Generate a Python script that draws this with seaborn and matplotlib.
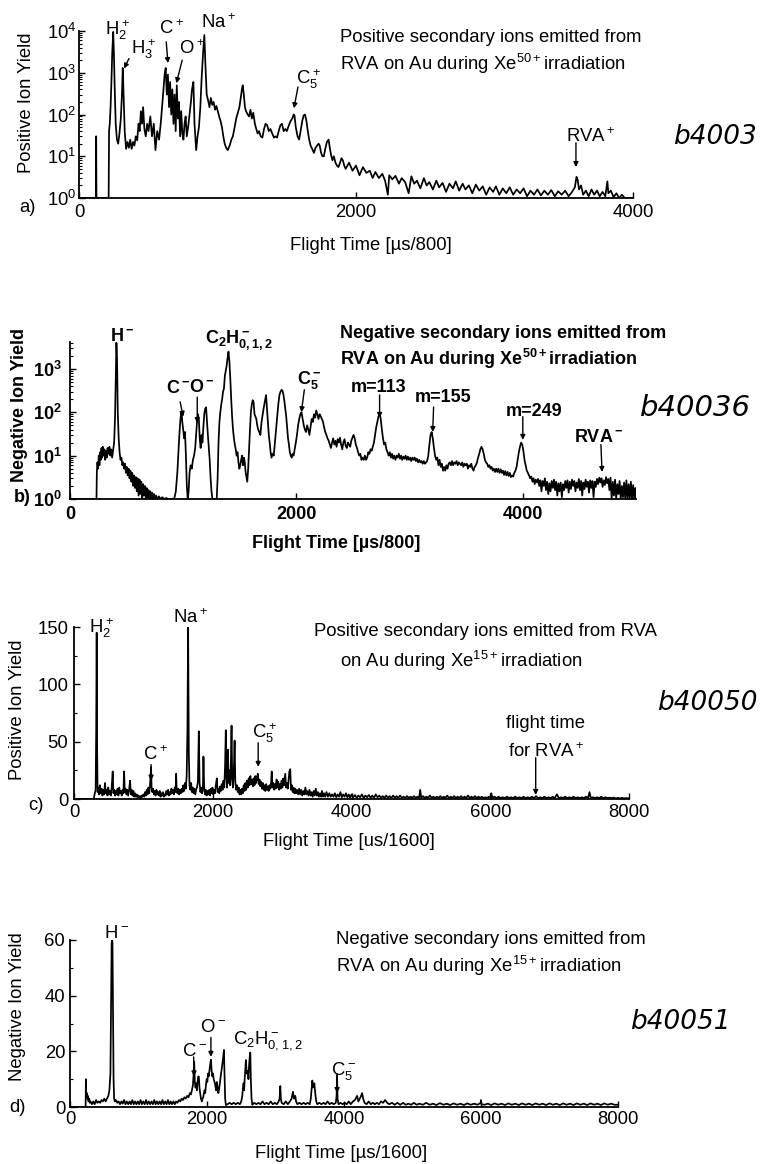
import pandas as pd
import matplotlib
matplotlib.use("Agg")
import matplotlib.pyplot as plt
import seaborn as sns
from matplotlib import font_manager
from matplotlib.font_manager import FontProperties
from matplotlib.ticker import MultipleLocator, NullFormatter

# ---- spectra: (flight time, ion yield) ----
a_spectrum = [
    (0, 1), (122, 1), (124, 30), (126, 1), (214, 1), (217, 40), (222, 60), (228, 150), (234, 600),
    (240, 3000), (247, 9500), (252, 3000), (258, 400), (265, 60), (274, 25), (283, 20), (292, 35),
    (302, 80), (310, 300), (316, 1300), (322, 300), (330, 40), (340, 15), (350, 22), (360, 16),
    (370, 25), (380, 15), (390, 22), (400, 18), (410, 30), (420, 24), (430, 60), (438, 40),
    (447, 120), (455, 60), (463, 150), (472, 45), (482, 30), (492, 60), (502, 40), (515, 90),
    (527, 30), (540, 60), (552, 14), (565, 40), (578, 25), (590, 60), (600, 150), (610, 400),
    (618, 900), (626, 1300), (634, 300), (642, 900), (650, 150), (658, 600), (666, 100), (674, 400),
    (682, 60), (690, 300), (698, 40), (706, 500), (714, 80), (722, 200), (730, 30), (738, 120),
    (746, 35), (754, 25), (762, 60), (770, 90), (778, 30), (788, 50), (798, 100), (808, 200),
    (816, 400), (826, 600), (834, 60), (846, 14), (856, 30), (866, 50), (876, 150), (886, 800),
    (896, 3000), (905, 8000), (913, 1500), (922, 300), (932, 220), (942, 150), (952, 250),
    (962, 170), (972, 200), (982, 130), (992, 160), (1002, 120), (1012, 90), (1022, 70), (1032, 50),
    (1042, 30), (1052, 20), (1062, 16), (1074, 14), (1088, 18), (1100, 25), (1111, 30), (1124, 50),
    (1135, 80), (1147, 110), (1158, 150), (1168, 250), (1176, 400), (1182, 500), (1190, 300),
    (1198, 150), (1206, 120), (1218, 100), (1228, 90), (1238, 130), (1248, 80), (1258, 110),
    (1270, 60), (1280, 45), (1290, 35), (1300, 40), (1312, 30), (1324, 28), (1336, 45), (1347, 60),
    (1359, 55), (1370, 40), (1382, 45), (1395, 35), (1408, 28), (1420, 30), (1430, 28), (1442, 40),
    (1454, 55), (1465, 60), (1478, 40), (1490, 45), (1501, 40), (1515, 55), (1528, 70), (1540, 80),
    (1550, 100), (1556, 95), (1565, 50), (1578, 30), (1589, 25), (1600, 40), (1612, 70), (1622, 95),
    (1632, 100), (1642, 70), (1652, 40), (1662, 25), (1672, 18), (1684, 15), (1696, 12), (1708, 16),
    (1720, 18), (1730, 20), (1738, 18), (1748, 12), (1758, 10), (1768, 10), (1778, 15), (1790, 22),
    (1802, 25), (1812, 15), (1822, 10), (1830, 8), (1840, 10), (1852, 7), (1862, 6), (1873, 5.5),
    (1885, 7), (1895, 9), (1905, 8), (1915, 6), (1925, 5), (1950, 7), (1975, 4.5), (2000, 6),
    (2025, 3.5), (2050, 5.5), (2075, 4), (2100, 4.5), (2120, 3), (2140, 4.2), (2165, 3), (2190, 3.8),
    (2210, 2.6), (2230, 1.2), (2240, 3.5), (2262, 2.8), (2285, 3.4), (2310, 2.2), (2330, 3.0),
    (2355, 2.4), (2380, 1.3), (2400, 3.3), (2420, 2.2), (2440, 2.6), (2465, 1.7), (2490, 3.0),
    (2510, 2.0), (2530, 2.4), (2555, 1.6), (2580, 2.6), (2600, 1.8), (2625, 2.3), (2650, 1.4),
    (2675, 2.2), (2700, 1.7), (2720, 2.5), (2745, 1.5), (2770, 2.2), (2790, 1.6), (2815, 2.0),
    (2840, 1.3), (2865, 2.1), (2890, 1.5), (2915, 1.9), (2940, 1.2), (2965, 1.8), (2990, 1.4),
    (3010, 1.9), (3035, 1.2), (3060, 1.7), (3085, 1.3), (3110, 1.8), (3135, 1.2), (3160, 1.6),
    (3185, 1.3), (3210, 1.7), (3235, 1.1), (3260, 1.5), (3285, 1.2), (3310, 1.6), (3335, 1.15),
    (3360, 1.5), (3385, 1.2), (3410, 1.55), (3435, 1.1), (3460, 1.45), (3485, 1.2), (3510, 1.5),
    (3535, 1.1), (3560, 1.4), (3580, 1.8), (3592, 3.2), (3600, 2.8), (3610, 1.6), (3625, 2.0),
    (3640, 1.2), (3660, 1.5), (3680, 1.1), (3700, 1.6), (3720, 1.2), (3740, 1.5), (3760, 1.1),
    (3780, 1.4), (3800, 1.1), (3815, 2.5), (3822, 1.3), (3840, 1.5), (3860, 1.05), (3880, 1.3),
    (3900, 1.0), (3920, 1.2), (3940, 1.0), (4000, 1.0),
]

b_spectrum = [
    (0, 1), (234, 1), (237, 4), (242, 7), (248, 5), (254, 10), (260, 6), (266, 12), (272, 8),
    (278, 15), (284, 9), (290, 16), (297, 10), (304, 14), (311, 8), (318, 13), (325, 9), (332, 15),
    (340, 11), (348, 16), (356, 10), (364, 14), (372, 9), (380, 13), (390, 20), (398, 80),
    (405, 800), (410, 4000), (416, 1500), (422, 100), (430, 25), (438, 12), (446, 8), (454, 9),
    (462, 6), (470, 7), (478, 5), (486, 6.5), (494, 4), (502, 5.5), (510, 3.5), (518, 5), (526, 3),
    (534, 4.5), (542, 2.5), (550, 4), (558, 2), (566, 3.5), (574, 1.8), (582, 3.2), (590, 1.5),
    (598, 3), (606, 1.2), (614, 2.8), (622, 1.3), (630, 2.5), (638, 1), (646, 2.2), (654, 1.2),
    (662, 2), (670, 1), (678, 1.8), (686, 1.1), (694, 1.6), (702, 1), (710, 1.5), (718, 1),
    (726, 1.4), (734, 1), (742, 1.3), (750, 1), (760, 1.2), (772, 1), (785, 1.15), (800, 1),
    (815, 1.1), (830, 1), (850, 1.05), (870, 1), (920, 1), (935, 1.5), (948, 4), (958, 12),
    (966, 30), (974, 60), (980, 90), (986, 100), (992, 60), (1000, 40), (1008, 25), (1016, 35),
    (1024, 10), (1032, 2), (1040, 1), (1048, 1.5), (1056, 4), (1066, 6), (1076, 5), (1086, 8),
    (1096, 10), (1106, 15), (1114, 30), (1122, 60), (1130, 90), (1138, 70), (1146, 25), (1154, 15),
    (1162, 30), (1170, 20), (1178, 45), (1186, 90), (1194, 120), (1202, 130), (1210, 60),
    (1218, 30), (1226, 15), (1234, 8), (1242, 3), (1250, 1.5), (1258, 1), (1296, 1), (1304, 3),
    (1312, 20), (1320, 60), (1328, 100), (1336, 150), (1344, 200), (1352, 300), (1360, 350),
    (1368, 700), (1376, 900), (1384, 1200), (1392, 1800), (1400, 2500), (1408, 1500), (1416, 600),
    (1424, 200), (1432, 80), (1440, 40), (1448, 25), (1456, 18), (1464, 14), (1472, 10),
    (1480, 12), (1488, 7), (1496, 5), (1504, 6), (1512, 8), (1520, 10), (1528, 6), (1536, 9),
    (1544, 7), (1552, 4), (1560, 3), (1566, 2.5), (1574, 5), (1582, 15), (1590, 40), (1598, 100),
    (1606, 150), (1614, 190), (1622, 170), (1630, 90), (1638, 80), (1646, 70), (1654, 50),
    (1662, 40), (1672, 35), (1682, 30), (1692, 60), (1702, 90), (1712, 130), (1722, 180),
    (1732, 250), (1740, 120), (1748, 60), (1756, 30), (1764, 20), (1772, 12), (1780, 9),
    (1790, 11), (1800, 10), (1810, 20), (1820, 40), (1830, 80), (1840, 150), (1850, 250),
    (1860, 300), (1870, 330), (1878, 310), (1886, 250), (1894, 180), (1902, 120), (1910, 80),
    (1918, 45), (1926, 25), (1934, 18), (1942, 12), (1950, 10), (1958, 9), (1966, 11), (1975, 10),
    (1985, 14), (1995, 20), (2005, 30), (2015, 50), (2025, 70), (2035, 90), (2045, 100),
    (2055, 70), (2065, 50), (2075, 40), (2085, 35), (2095, 50), (2105, 40), (2115, 30), (2125, 45),
    (2135, 70), (2145, 60), (2155, 90), (2165, 75), (2175, 110), (2185, 90), (2195, 70),
    (2205, 90), (2215, 80), (2225, 70), (2235, 60), (2245, 45), (2255, 35), (2265, 30), (2275, 25),
    (2285, 22), (2295, 18), (2305, 15), (2315, 20), (2325, 25), (2335, 18), (2345, 22), (2355, 16),
    (2365, 24), (2375, 20), (2385, 26), (2395, 18), (2405, 14), (2415, 20), (2425, 24), (2435, 17),
    (2445, 15), (2455, 20), (2465, 18), (2475, 16), (2485, 22), (2495, 26), (2505, 30), (2515, 25),
    (2525, 18), (2535, 15), (2545, 12), (2555, 10), (2565, 11), (2575, 8), (2585, 9), (2595, 8),
    (2605, 10), (2615, 8), (2625, 9), (2635, 12), (2645, 11), (2655, 14), (2665, 13), (2675, 16),
    (2685, 20), (2695, 30), (2705, 45), (2715, 60), (2725, 80), (2735, 95), (2745, 70), (2755, 40),
    (2765, 25), (2775, 18), (2785, 20), (2795, 14), (2805, 12), (2815, 10), (2825, 12), (2835, 9),
    (2845, 11), (2855, 8.5), (2865, 10), (2875, 8), (2885, 10), (2895, 9), (2905, 11), (2915, 8.5),
    (2925, 10), (2935, 8), (2945, 9.5), (2955, 8.5), (2965, 10), (2975, 8), (2985, 9.5), (2995, 8),
    (3005, 9), (3015, 7.5), (3025, 9), (3035, 8), (3045, 9), (3055, 7.5), (3065, 8.5), (3075, 7),
    (3085, 8), (3095, 7), (3105, 7.5), (3115, 6.5), (3125, 7.5), (3135, 6.5), (3145, 7),
    (3155, 7.5), (3165, 10), (3175, 18), (3185, 30), (3195, 35), (3205, 25), (3215, 15),
    (3225, 10), (3235, 8), (3245, 9), (3255, 6), (3265, 8), (3275, 5.5), (3285, 6.5), (3295, 4.5),
    (3305, 5.5), (3315, 4.5), (3325, 6), (3335, 5), (3345, 6.5), (3355, 7), (3365, 6), (3375, 7.5),
    (3385, 6), (3395, 7), (3405, 6.5), (3415, 7.5), (3425, 6), (3435, 7), (3445, 6.5), (3455, 6),
    (3465, 7), (3475, 5.5), (3485, 6.5), (3495, 6), (3505, 6.5), (3515, 5), (3525, 6), (3535, 5.5),
    (3545, 6.5), (3555, 5), (3565, 4.5), (3575, 5.5), (3585, 6), (3595, 7), (3605, 9), (3615, 11),
    (3625, 14), (3635, 16), (3645, 14), (3655, 11), (3665, 8), (3675, 7), (3685, 6.5), (3695, 5.5),
    (3705, 6), (3715, 5), (3725, 5.5), (3735, 4.5), (3745, 5), (3755, 4.2), (3765, 5), (3775, 4.2),
    (3785, 5), (3795, 4), (3805, 4.8), (3815, 4), (3825, 4.5), (3835, 3.6), (3845, 4.4),
    (3855, 3.5), (3865, 4.2), (3875, 3.4), (3885, 4), (3895, 3.2), (3905, 3.5), (3915, 3.3),
    (3925, 4), (3935, 4.5), (3945, 5.5), (3955, 8), (3965, 12), (3975, 16), (3985, 20), (3995, 18),
    (4005, 13), (4015, 8), (4025, 6), (4035, 4.5), (4045, 4), (4055, 3.5), (4065, 3), (4075, 3.3),
    (4085, 2.5), (4095, 3), (4105, 2.2), (4115, 2.8), (4125, 2.4), (4135, 2.9), (4145, 2),
    (4155, 2.7), (4165, 1.5), (4175, 2.6), (4185, 2), (4195, 3), (4205, 1.6), (4215, 2.5),
    (4225, 1.3), (4235, 2.3), (4245, 1.5), (4255, 2.6), (4265, 1.8), (4275, 2.8), (4285, 1.6),
    (4295, 2.5), (4305, 1.2), (4315, 2.3), (4325, 1.5), (4335, 2.4), (4345, 1.1), (4355, 2.2),
    (4365, 1.6), (4375, 2.6), (4385, 1.8), (4395, 2.7), (4405, 1.4), (4415, 2.5), (4425, 1.7),
    (4435, 2.8), (4445, 2), (4455, 2.6), (4465, 1.5), (4475, 2.4), (4485, 1.8), (4495, 2.9),
    (4505, 1.6), (4515, 2.6), (4525, 1.2), (4535, 2.4), (4545, 1.7), (4555, 2.8), (4565, 1.9),
    (4575, 2.5), (4585, 1.4), (4595, 2.7), (4605, 1.8), (4615, 2.6), (4625, 1.1), (4635, 2.5),
    (4645, 1.9), (4655, 2.9), (4665, 2.2), (4675, 3.1), (4685, 2.4), (4695, 3), (4705, 1.9),
    (4715, 2.7), (4725, 2.1), (4735, 3.2), (4745, 2.3), (4755, 2.9), (4765, 1.6), (4775, 3.1),
    (4785, 1.0), (4795, 2.5), (4805, 1.2), (4815, 2.8), (4825, 1.0), (4835, 2.2), (4845, 1.3),
    (4855, 2.6), (4865, 1.0), (4875, 2.0), (4885, 1.1), (4895, 2.4), (4905, 1.0), (4915, 2.7),
    (4925, 1.0), (4935, 2.2), (4945, 1.0), (4955, 2.5), (4965, 1.0), (4975, 2.1), (4985, 1.0),
    (4995, 1.8), (5000, 1.0),
]

c_spectrum = [
    (0, 0), (286, 0), (290, 2), (300, 5), (312, 8), (320, 60), (327, 145), (334, 40), (340, 6),
    (352, 10), (362, 4), (374, 12), (386, 5), (398, 9), (410, 3), (422, 8), (434, 4), (447, 14),
    (458, 5), (470, 8), (482, 3), (494, 10), (506, 4), (518, 7), (530, 3), (542, 9), (558, 24),
    (568, 5), (580, 8), (592, 3), (604, 7), (616, 4), (628, 9), (640, 3), (652, 10), (664, 5),
    (676, 7), (688, 3), (700, 8), (712, 5), (722, 24), (732, 6), (744, 9), (756, 4), (768, 8),
    (780, 3), (796, 9), (808, 16), (820, 4), (832, 8), (844, 3), (856, 7), (868, 2), (880, 5),
    (892, 2), (904, 4), (916, 1.5), (928, 3), (940, 1), (952, 2.5), (964, 1), (976, 3), (988, 2),
    (1000, 4), (1012, 2), (1024, 6), (1036, 3), (1048, 8), (1060, 4), (1072, 10), (1084, 5),
    (1096, 12), (1104, 20), (1111, 28), (1118, 10), (1128, 6), (1140, 9), (1152, 4), (1164, 7),
    (1176, 3), (1188, 8), (1200, 4), (1212, 6), (1224, 3), (1236, 7), (1248, 2), (1260, 5),
    (1272, 3), (1284, 6), (1296, 2), (1308, 4), (1320, 3), (1332, 7), (1344, 4), (1356, 8),
    (1368, 3), (1380, 6), (1392, 4), (1404, 9), (1416, 5), (1428, 8), (1440, 4), (1452, 10),
    (1464, 6), (1472, 22), (1480, 8), (1492, 5), (1504, 9), (1516, 4), (1528, 8), (1540, 5),
    (1552, 9), (1564, 6), (1576, 12), (1588, 7), (1600, 14), (1612, 9), (1624, 20), (1635, 60),
    (1645, 150), (1655, 40), (1665, 12), (1676, 8), (1688, 14), (1700, 6), (1712, 10), (1724, 5),
    (1736, 9), (1748, 4), (1760, 8), (1772, 10), (1786, 15), (1799, 59), (1810, 14), (1822, 6),
    (1834, 10), (1846, 5), (1858, 9), (1866, 37), (1876, 10), (1888, 4), (1900, 8), (1912, 3),
    (1924, 7), (1936, 4), (1948, 8), (1960, 3), (1972, 9), (1984, 5), (1996, 10), (2008, 4),
    (2020, 8), (2032, 5), (2044, 12), (2059, 18), (2070, 6), (2082, 9), (2094, 5), (2106, 11),
    (2118, 7), (2130, 13), (2142, 8), (2154, 16), (2166, 10), (2178, 30), (2188, 60), (2196, 20),
    (2206, 10), (2218, 43), (2228, 14), (2240, 25), (2252, 12), (2262, 35), (2271, 64), (2280, 18),
    (2292, 10), (2305, 28), (2315, 51), (2325, 15), (2338, 8), (2350, 12), (2362, 6), (2374, 10),
    (2386, 4), (2398, 8), (2410, 4), (2422, 9), (2434, 5), (2446, 12), (2458, 7), (2470, 14),
    (2482, 8), (2494, 16), (2506, 10), (2518, 18), (2530, 12), (2542, 20), (2554, 13), (2566, 17),
    (2578, 11), (2590, 18), (2602, 12), (2614, 20), (2626, 14), (2638, 19), (2650, 22), (2662, 13),
    (2674, 17), (2686, 11), (2698, 15), (2710, 9), (2722, 14), (2734, 8), (2746, 12), (2758, 7),
    (2770, 13), (2782, 8), (2794, 11), (2806, 7), (2818, 12), (2830, 9), (2842, 15), (2850, 24),
    (2860, 10), (2872, 14), (2884, 8), (2896, 13), (2908, 9), (2920, 17), (2932, 10), (2944, 15),
    (2956, 8), (2968, 13), (2980, 9), (2992, 16), (3004, 10), (3016, 18), (3028, 12), (3045, 22),
    (3058, 10), (3070, 14), (3082, 9), (3094, 17), (3104, 24), (3117, 26), (3128, 8), (3140, 12),
    (3152, 6), (3164, 10), (3176, 5), (3188, 9), (3200, 5), (3215, 8), (3230, 4), (3245, 9),
    (3260, 4), (3275, 8), (3290, 3), (3305, 7), (3320, 4), (3335, 10), (3350, 4), (3365, 7),
    (3380, 3), (3395, 8), (3410, 3), (3425, 6), (3440, 2), (3455, 7), (3470, 3), (3485, 9),
    (3500, 3), (3515, 6), (3530, 2), (3545, 5), (3560, 2), (3575, 7), (3590, 2), (3605, 5),
    (3620, 2), (3640, 6), (3660, 2), (3680, 5), (3700, 2), (3720, 4), (3740, 2), (3760, 5),
    (3780, 1.5), (3800, 4), (3820, 2), (3840, 6), (3860, 1.5), (3880, 4), (3900, 2), (3920, 5),
    (3940, 1.5), (3960, 4), (3980, 1), (4000, 4), (4025, 1.5), (4050, 3.5), (4075, 1), (4100, 3),
    (4125, 1.5), (4150, 4), (4175, 1), (4200, 3), (4225, 1.5), (4250, 3.5), (4275, 1), (4300, 3),
    (4325, 1), (4350, 4), (4375, 1.5), (4400, 3), (4425, 1), (4450, 2.5), (4475, 1), (4500, 3),
    (4525, 1), (4550, 2.5), (4575, 1), (4600, 3), (4625, 1), (4650, 2.5), (4675, 1), (4700, 3),
    (4725, 1), (4750, 2), (4775, 1), (4800, 2.5), (4825, 1), (4850, 2), (4875, 1), (4900, 2.5),
    (4925, 1), (4950, 2), (4975, 1), (4990, 8), (5005, 1), (5030, 2.5), (5055, 1), (5080, 2),
    (5105, 1), (5130, 3), (5155, 1), (5180, 2), (5205, 0.8), (5230, 2), (5255, 1), (5280, 2.5),
    (5305, 0.8), (5330, 2), (5355, 1), (5380, 3), (5405, 0.8), (5430, 2), (5455, 1), (5480, 2.5),
    (5505, 0.8), (5530, 2), (5555, 1), (5580, 2.5), (5605, 0.8), (5630, 2), (5655, 1), (5680, 3),
    (5705, 0.8), (5730, 2), (5755, 1), (5780, 2.5), (5805, 0.8), (5830, 2), (5855, 1), (5880, 2),
    (5905, 0.8), (5930, 1.5), (5955, 1), (5980, 2), (6005, 1), (6015, 5), (6030, 1), (6060, 2),
    (6090, 0.8), (6120, 2), (6150, 0.8), (6180, 1.5), (6210, 0.8), (6240, 2), (6270, 0.8),
    (6300, 1.5), (6330, 0.8), (6360, 2), (6390, 0.8), (6420, 1.5), (6450, 0.8), (6480, 2),
    (6510, 0.8), (6540, 1.5), (6570, 0.8), (6600, 2), (6630, 0.8), (6660, 2.5), (6690, 0.8),
    (6720, 1.5), (6750, 0.8), (6780, 2), (6810, 0.8), (6840, 1.5), (6870, 0.8), (6900, 2),
    (6930, 0.8), (6960, 4), (6990, 0.8), (7020, 1.5), (7050, 0.8), (7080, 2), (7110, 0.8),
    (7140, 1.5), (7170, 0.8), (7200, 2), (7230, 0.8), (7260, 1.5), (7290, 0.8), (7320, 1.5),
    (7350, 0.8), (7380, 2), (7410, 0.8), (7430, 6), (7450, 0.8), (7480, 1.5), (7510, 0.8),
    (7540, 1.5), (7570, 0.8), (7600, 2), (7630, 0.8), (7660, 1.5), (7690, 0.8), (7720, 1.2),
    (7750, 0.8), (7780, 1.2), (7810, 0.5), (7840, 1), (7870, 0.5), (7900, 1), (7930, 0.5),
    (7960, 0.8), (8000, 0.5),
]

d_spectrum = [
    (0, 0), (228, 0), (232, 10), (238, 4), (246, 5), (254, 3), (262, 4), (270, 2), (280, 3),
    (290, 1.5), (300, 2), (320, 1), (340, 2), (360, 1), (380, 2.5), (400, 1.5), (420, 2),
    (440, 1.5), (460, 2.5), (480, 2), (500, 3), (520, 2), (540, 3), (560, 4), (575, 6), (590, 12),
    (600, 40), (608, 59), (614, 60), (620, 59), (628, 35), (636, 10), (644, 3), (655, 2),
    (670, 2.5), (690, 1.5), (710, 2), (730, 1), (750, 2), (770, 1.2), (790, 2.5), (810, 1),
    (830, 2), (850, 1), (870, 2), (890, 1), (910, 2.5), (930, 1), (950, 2), (970, 1), (990, 2),
    (1010, 1), (1030, 2.5), (1050, 1), (1070, 2), (1090, 1), (1110, 2.5), (1130, 1), (1150, 2),
    (1170, 1), (1190, 2), (1210, 1), (1230, 2.5), (1250, 1), (1270, 2), (1290, 1), (1310, 2),
    (1330, 1), (1350, 2.5), (1370, 1), (1390, 2), (1410, 1), (1430, 2.5), (1450, 1), (1470, 2),
    (1490, 1), (1510, 2), (1530, 1), (1550, 2), (1570, 1.5), (1590, 2.5), (1610, 2), (1630, 3),
    (1650, 2.5), (1670, 3.5), (1690, 3), (1710, 4), (1730, 3.5), (1750, 5), (1765, 4.5),
    (1780, 6), (1795, 8), (1805, 12), (1813, 16.3), (1822, 9), (1832, 7), (1842, 8.5), (1852, 6),
    (1862, 9), (1872, 11), (1881, 10.9), (1890, 7), (1900, 5), (1912, 3), (1925, 2), (1935, 3),
    (1945, 3.5), (1955, 5), (1965, 6), (1974, 5), (1985, 8), (1995, 10), (2005, 9), (2015, 12),
    (2025, 11), (2035, 13), (2045, 15), (2057, 17), (2068, 13), (2078, 11), (2088, 12),
    (2098, 10), (2110, 9), (2120, 8), (2132, 6), (2144, 9), (2155, 7), (2165, 5), (2175, 6),
    (2185, 8), (2195, 10), (2205, 12), (2217, 14), (2227, 16), (2237, 18), (2247, 20.5),
    (2256, 12), (2265, 3), (2276, 0.7), (2300, 1), (2330, 1.5), (2360, 1), (2390, 1.5), (2420, 1),
    (2450, 1.5), (2480, 1), (2500, 2), (2515, 4), (2525, 7), (2534, 8.5), (2542, 6), (2550, 10),
    (2560, 14), (2568, 16.9), (2577, 13), (2585, 12), (2597, 13), (2605, 10), (2614, 15),
    (2624, 18), (2632, 19.6), (2640, 10), (2650, 3), (2661, 0.8), (2690, 1.5), (2720, 1),
    (2750, 1.5), (2780, 1), (2810, 2), (2840, 1), (2870, 1.5), (2900, 1), (2930, 2), (2960, 1),
    (2990, 1.5), (3020, 1), (3045, 2), (3060, 3), (3070, 7.5), (3078, 3), (3090, 1.5), (3120, 1),
    (3150, 2), (3180, 1), (3210, 2), (3235, 3), (3255, 5.5), (3270, 3), (3289, 4), (3300, 2),
    (3320, 1), (3350, 1.5), (3380, 1), (3410, 1.5), (3440, 1), (3470, 1.5), (3500, 1), (3515, 3),
    (3525, 6), (3538, 9.5), (3550, 7), (3567, 8.5), (3580, 5), (3595, 2), (3610, 1), (3640, 1.5),
    (3670, 1), (3700, 1.5), (3730, 1), (3760, 2), (3790, 1), (3820, 1.5), (3850, 1), (3880, 1.5),
    (3892, 4), (3899, 11.5), (3906, 3), (3920, 1), (3950, 1.5), (3980, 1), (4010, 1.5), (4040, 1),
    (4070, 2), (4100, 1), (4130, 2), (4160, 2.5), (4191, 4), (4210, 2), (4230, 3), (4250, 4),
    (4264, 5), (4280, 3), (4300, 1.5), (4330, 1), (4360, 2), (4390, 1), (4420, 1.5), (4450, 1),
    (4480, 1.5), (4510, 1), (4540, 2), (4570, 1.5), (4600, 2.5), (4630, 1.5), (4660, 1),
    (4700, 1.5), (4740, 0.8), (4780, 1.5), (4820, 0.8), (4860, 1.5), (4900, 0.8), (4940, 1.2),
    (4980, 0.8), (5020, 1.5), (5060, 0.8), (5100, 1.2), (5150, 0.8), (5200, 1.5), (5250, 0.8),
    (5300, 1.2), (5350, 0.7), (5400, 1.4), (5450, 0.8), (5500, 1.2), (5550, 0.7), (5600, 1.3),
    (5650, 0.8), (5700, 1.2), (5750, 0.7), (5800, 1.3), (5850, 0.8), (5900, 1.2), (5950, 0.8),
    (5995, 1.5), (6000, 2.5), (6005, 1.0), (6050, 0.8), (6100, 1.2), (6150, 0.7), (6200, 1.3),
    (6250, 0.8), (6300, 1.2), (6350, 0.7), (6400, 1.3), (6450, 0.8), (6500, 1.2), (6550, 0.7),
    (6600, 1.3), (6650, 0.8), (6700, 1.2), (6750, 0.7), (6800, 1.3), (6850, 0.8), (6900, 1.2),
    (6950, 0.7), (7000, 1.3), (7050, 0.8), (7100, 1.2), (7150, 0.7), (7200, 1.3), (7250, 0.8),
    (7300, 1.2), (7350, 0.7), (7400, 1.3), (7450, 0.8), (7500, 1.2), (7550, 0.7), (7600, 1.3),
    (7650, 0.8), (7700, 1.2), (7750, 0.7), (7800, 1.3), (7850, 0.8), (7900, 1.2), (7950, 0.8),
    (8000, 0.8),
]

# ---- peak labels (text, time, yield) and arrows ((tail), (tip)) ----
a_labels = [(r"$H_2^+$", 278, 10**4.02), (r"$H_3^+$", 466, 10**3.57), (r"$C^+$", 664, 10**4.05),
            (r"$O^+$", 818, 10**3.57), (r"$Na^+$", 1005, 10**4.19), (r"$C_5^+$", 1660, 10**2.85),
            (r"$RVA^+$", 3697, 10**1.46)]
a_arrows = [((361, 2190), (325, 1260)), ((630, 5500), (642, 1700)), ((745, 2000), (703, 560)),
            ((1581, 457), (1552, 141)), ((3588, 21), (3588, 5.5))]

b_labels = [(r"$H^-$", 465, 10**3.74), (r"$C^-$", 956, 10**2.54), (r"$O^-$", 1160, 10**2.56),
            (r"$C_2H_{0,1,2}^-$", 1496, 10**3.67), (r"$C_5^-$", 2115, 10**2.75),
            ("m=113", 2726, 10**2.56), ("m=155", 3292, 10**2.33), ("m=249", 4097, 10**2.01),
            (r"$RVA^-$", 4673, 10**1.41)]
b_arrows = [((973, 174), (1000, 79)), ((1124, 224), (1124, 56)), ((2070, 331), (2044, 100)),
            ((2735, 251), (2735, 74)), ((3212, 132), (3204, 35)), ((4000, 79), (4000, 23)),
            ((4690, 18), (4700, 4.2))]

c_labels = [(r"$H_2^+$", 397, 149), (r"$Na^+$", 1674, 158), (r"$C^+$", 1176, 39),
            (r"$C_5^+$", 2742, 57), ("flight time", 6797, 66), (r"for $RVA^+$", 6811, 41)]
c_arrows = [((1111, 30), (1111, 16)), ((2655, 49), (2655, 28)), ((6655, 36), (6655, 3.5))]

d_labels = [(r"$H^-$", 680, 62.5), (r"$C^-$", 1820, 20), (r"$O^-$", 2090, 28.7),
            (r"$C_2H_{0,1,2}^-$", 2895, 24), (r"$C_5^-$", 3991, 13)]
d_arrows = [((1805, 18), (1812, 11)), ((2057, 25), (2057, 18)), ((3899, 12), (3899, 5))]

# ---- fonts / colours ----
sns.set_style("ticks")
installed = {f.name for f in font_manager.fontManager.ttflist}
if "Liberation Sans Narrow" in installed:
    NARROW, NSIZE = "Liberation Sans Narrow", 16
else:
    NARROW, NSIZE = "Liberation Sans", 13.3
plt.rcParams["font.family"] = [NARROW, "DejaVu Sans"]
plt.rcParams["mathtext.default"] = "regular"
for key in ("text.color", "axes.labelcolor", "xtick.color", "ytick.color", "axes.edgecolor"):
    plt.rcParams[key] = "black"

narrow = FontProperties(family=[NARROW, "DejaVu Sans"], size=NSIZE)
bold = FontProperties(family=["Liberation Sans", "DejaVu Sans"], weight="bold", size=13)
hand = FontProperties(family=["DejaVu Sans"], style="italic", weight="light", size=19)

W, H = 768, 1164
fig = plt.figure(figsize=(W / 100, H / 100), dpi=100)
fig.patch.set_facecolor("white")


def ftext(x, y, s, fp, **kw):
    kw.setdefault("va", "center")
    fig.text(x / W, 1 - y / H, s, fontproperties=fp, color="black", **kw)


def panel(rect, spectrum, labels, arrows, fp, log, xlim, ylim, xticks, yticks,
          xlabel, ylabel, xlab_px, ylab_px, xpad, ypad, minor=None):
    left, top, right, bottom = rect
    ax = fig.add_axes([left / W, 1 - bottom / H, (right - left) / W, (bottom - top) / H])
    df = pd.DataFrame(spectrum, columns=["time", "yield"])
    sns.lineplot(data=df, x="time", y="yield", ax=ax, estimator=None, sort=False,
                 color="black", linewidth=1.25)
    if log:
        ax.set_yscale("log")
        ax.yaxis.set_minor_formatter(NullFormatter())
    elif minor:
        ax.yaxis.set_minor_locator(MultipleLocator(minor))
    ax.set_xlim(*xlim)
    ax.set_ylim(*ylim)
    ax.set_xticks(xticks)
    ax.set_yticks(yticks)
    sns.despine(ax=ax)
    for s in ("left", "bottom"):
        ax.spines[s].set_linewidth(1.3)
        ax.spines[s].set_color("black")
    ax.tick_params(which="major", direction="in", length=4, width=1, colors="black")
    ax.tick_params(which="minor", direction="in", length=2.5, width=0.8, colors="black")
    ax.tick_params(axis="x", pad=xpad)
    ax.tick_params(axis="y", pad=ypad)
    for lbl in ax.get_xticklabels() + ax.get_yticklabels():
        lbl.set_fontproperties(fp)
    ax.set_xlabel(xlabel, fontproperties=fp, va="center")
    ax.xaxis.set_label_coords((xlab_px[0] - left) / (right - left),
                              (bottom - xlab_px[1]) / (bottom - top))
    ax.set_ylabel(ylabel, fontproperties=fp, va="center", ha="center")
    ax.yaxis.set_label_coords((ylab_px[0] - left) / (right - left),
                              (bottom - ylab_px[1]) / (bottom - top))
    for txt, x, y in labels:
        ax.text(x, y, txt, fontproperties=fp, ha="center", va="center", clip_on=False)
    for tail, tip in arrows:
        ax.annotate("", xy=tip, xytext=tail, annotation_clip=False,
                    arrowprops=dict(arrowstyle="-|>", color="black", lw=1.0,
                                    mutation_scale=7, shrinkA=0, shrinkB=0))
    return ax


# a) positive ions, Xe50+
panel((79, 31, 633, 198), a_spectrum, a_labels, a_arrows, narrow, True, (0, 4000), (1, 1e4),
      [0, 2000, 4000], [1, 10, 100, 1000, 10000], "Flight Time [µs/800]", "Positive Ion Yield",
      (371, 245), (27, 103), 4.5, 2)
ftext(340, 37, "Positive secondary ions emitted from", narrow, ha="left")
ftext(340, 64, r"RVA on Au during Xe$^{50+}$irradiation", narrow, ha="left")
ftext(27, 207, "a)", narrow, ha="center")
ftext(673, 137, "b4003", hand, ha="left")

# b) negative ions, Xe50+
panel((70, 342, 636, 499), b_spectrum, b_labels, b_arrows, bold, True, (0, 5000), (1, 10**3.62),
      [0, 2000, 4000], [1, 10, 100, 1000], "Flight Time [µs/800]", "Negative Ion Yield",
      (336, 544), (20, 405), 5, 6)
ftext(340, 333, "Negative secondary ions emitted from", bold, ha="left")
ftext(340, 359, r"RVA on Au during Xe$^{50+}$irradiation", bold, ha="left")
ftext(22, 497, "b)", bold, ha="center")
ftext(640, 408, "b40036", FontProperties(family=["DejaVu Sans"], style="italic",
                                          weight="light", size=21), ha="left")

# c) positive ions, Xe15+
panel((74, 627, 629, 799), c_spectrum, c_labels, c_arrows, narrow, False, (0, 8000), (0, 150),
      [0, 2000, 4000, 6000, 8000], [0, 50, 100, 150], "Flight Time [us/1600]",
      "Positive Ion Yield", (349, 842), (18, 710), 3.5, 4, minor=25)
ftext(485, 632, "Positive secondary ions emitted from RVA", narrow, ha="center")
ftext(461, 661, r"on Au during Xe$^{15+}$irradiation", narrow, ha="center")
ftext(36, 805, "c)", narrow, ha="center")
ftext(657, 703, "b40050", hand, ha="left")

# d) negative ions, Xe15+
panel((70, 940, 618, 1107), d_spectrum, d_labels, d_arrows, narrow, False, (0, 8000), (0, 60),
      [0, 2000, 4000, 6000, 8000], [0, 20, 40, 60], "Flight Time [µs/1600]",
      "Negative Ion Yield", (341, 1153), (18, 1007), 3, 3.5, minor=10)
ftext(336, 939, "Negative secondary ions emitted from", narrow, ha="left")
ftext(336, 966, r"RVA on Au during Xe$^{15+}$irradiation", narrow, ha="left")
ftext(17, 1107, "d)", narrow, ha="center")
ftext(630, 1022, "b40051", hand, ha="left")

fig.savefig("out.png", dpi=100, facecolor="white")
